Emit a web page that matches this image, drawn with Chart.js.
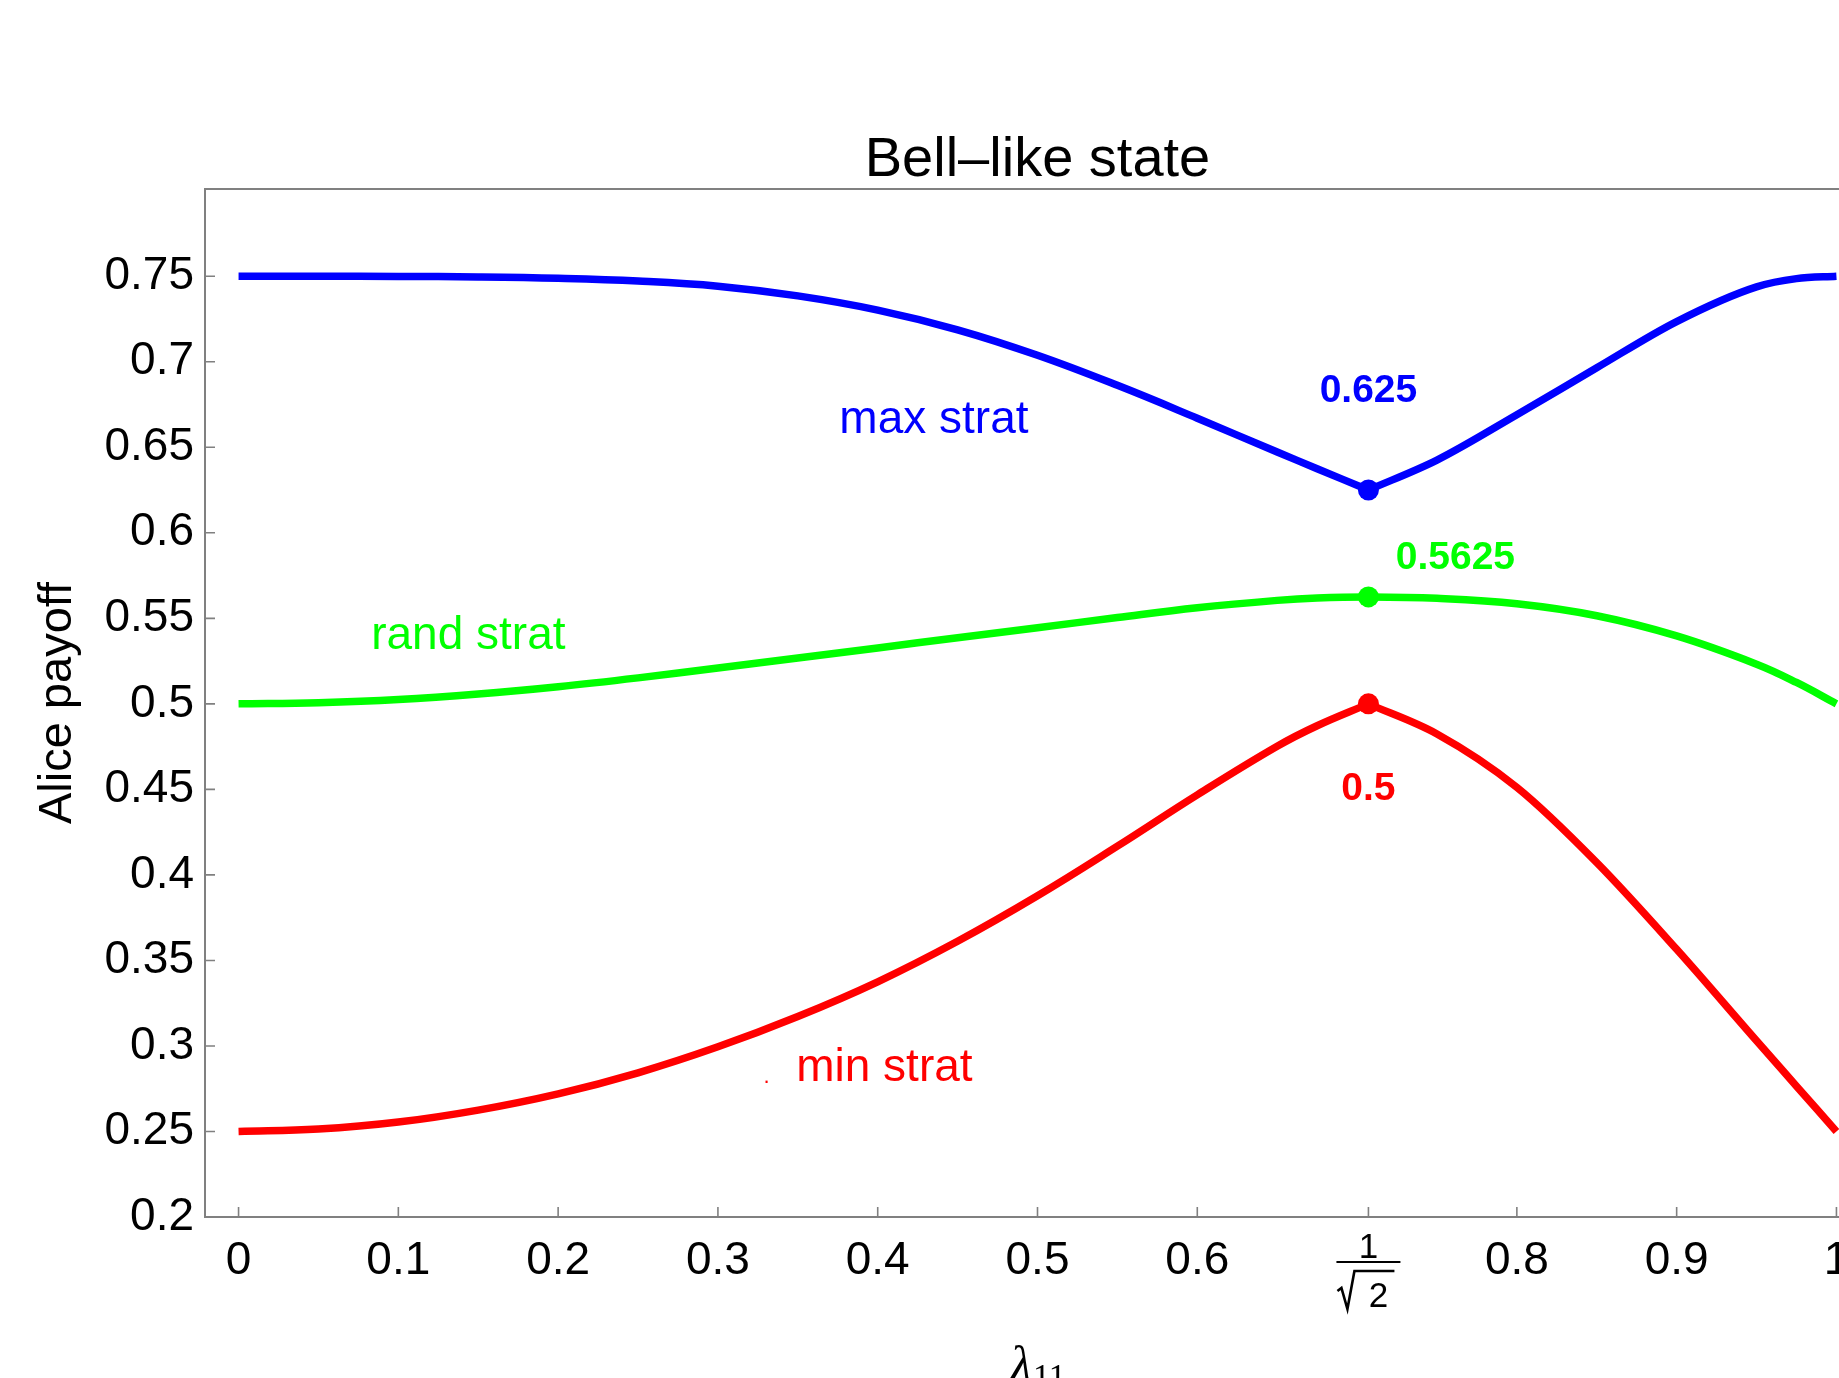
<!DOCTYPE html>
<html>
<head>
<meta charset="utf-8">
<title>Bell-like state</title>
<script src="https://cdn.jsdelivr.net/npm/chart.js@4.4.1/dist/chart.umd.min.js"></script>
<style>
html, body { margin: 0; padding: 0; background: #fff; overflow: hidden; }
#wrap { width: 1900px; height: 1378px; }
</style>
</head>
<body>
<div id="wrap"><canvas id="chart" width="1900" height="1378"></canvas></div>
<script>
// Values
const RT2 = 1 / Math.sqrt(2); // the curves meet / kink at lambda = 1/sqrt(2)

const lambdaLeft  = [0, 0.05, 0.1, 0.15, 0.2, 0.25, 0.3, 0.35, 0.4, 0.45, 0.5, 0.55, 0.6, 0.65, 0.675, RT2];
const lambdaRight = [RT2, 0.75, 0.8, 0.85, 0.9, 0.95, 0.975, 1];

const maxLeft  = [0.75, 0.75, 0.7499, 0.7496, 0.7488, 0.7472, 0.7442, 0.7385, 0.7302, 0.7187, 0.7038, 0.6862, 0.667, 0.6472, 0.6375, 0.625];
const maxRight = [0.625, 0.6425, 0.669, 0.6965, 0.7235, 0.7438, 0.7486, 0.75];

const randLeft  = [0.5, 0.5007, 0.5025, 0.5057, 0.51, 0.5152, 0.521, 0.5268, 0.5327, 0.5387, 0.5445, 0.5505, 0.5562, 0.5605, 0.5619, 0.5625];
const randRight = [0.5625, 0.5617, 0.5585, 0.5515, 0.5397, 0.5232, 0.5125, 0.5];

const minLeft  = [0.25, 0.2514, 0.2555, 0.2625, 0.272, 0.2843, 0.2995, 0.3172, 0.3375, 0.3612, 0.3878, 0.4168, 0.4468, 0.4752, 0.4872, 0.5];
const minRight = [0.5, 0.4824, 0.4512, 0.4072, 0.3565, 0.303, 0.2765, 0.25];

const markerY = [0.625, 0.5625, 0.5];

const xTicks = [0, 0.1, 0.2, 0.3, 0.4, 0.5, 0.6, RT2, 0.8, 0.9, 1];
const xTickLabels = ['0', '0.1', '0.2', '0.3', '0.4', '0.5', '0.6', '', '0.8', '0.9', '1'];
const yTicks = [0.2, 0.25, 0.3, 0.35, 0.4, 0.45, 0.5, 0.55, 0.6, 0.65, 0.7, 0.75];
const yTickLabels = ['0.2', '0.25', '0.3', '0.35', '0.4', '0.45', '0.5', '0.55', '0.6', '0.65', '0.7', '0.75'];

const BLUE = '#0000ff';
const GREEN = '#00ff00';
const RED = '#ff0000';
const AXIS_GRAY = '#808080';
const FONT = '"Liberation Sans", Arial, sans-serif';
const SERIF = '"Liberation Serif", "Times New Roman", serif';

// text placed in data coordinates
const notes = [
    { text: 'max strat', x: 0.376, y: 0.6584, color: BLUE, font: `46px ${FONT}`, align: 'left' },
    { text: 'rand strat', x: 0.083, y: 0.5321, color: GREEN, font: `46px ${FONT}`, align: 'left' },
    { text: 'min strat', x: 0.349, y: 0.2796, color: RED, font: `46px ${FONT}`, align: 'left' },
    { text: '.', x: 0.3285, y: 0.2785, color: RED, font: `22px ${FONT}`, align: 'left' },
    { text: '0.625', x: RT2, y: 0.6767, color: BLUE, font: `bold 39px ${FONT}`, align: 'center' },
    { text: '0.5625', x: 0.7242, y: 0.5788, color: GREEN, font: `bold 39px ${FONT}`, align: 'left' },
    { text: '0.5', x: RT2, y: 0.4437, color: RED, font: `bold 39px ${FONT}`, align: 'center' }
];

function toPoints(xs, ys) {
    return xs.map((x, i) => ({ x: x, y: ys[i] }));
}

function curve(xs, ys, color, monotone) {
    const ds = {
        data: toPoints(xs, ys),
        borderColor: color,
        borderWidth: 7.5,
        pointRadius: 0,
        fill: false,
        tension: 0.4,
        borderJoinStyle: 'round'
    };
    if (monotone) ds.cubicInterpolationMode = 'monotone';
    return ds;
}

// frame, inward tick marks and all free text
const decor = {
    id: 'decor',
    beforeDatasetsDraw(chart) {
        const { ctx, chartArea: a, scales: { x, y } } = chart;
        ctx.save();
        ctx.strokeStyle = AXIS_GRAY;
        ctx.lineWidth = 2;
        ctx.strokeRect(a.left, a.top, a.right - a.left, a.bottom - a.top);
        ctx.beginPath();
        xTicks.forEach(v => {
            const px = x.getPixelForValue(v);
            ctx.moveTo(px, a.bottom);
            ctx.lineTo(px, a.bottom - 10);
        });
        yTicks.forEach(v => {
            const py = y.getPixelForValue(v);
            ctx.moveTo(a.left, py);
            ctx.lineTo(a.left + 10, py);
        });
        ctx.lineWidth = 1.6;
        ctx.stroke();
        ctx.restore();
    },
    afterDraw(chart) {
        const { ctx, chartArea: a, scales: { x, y } } = chart;
        const midX = (a.left + a.right) / 2;
        ctx.save();
        ctx.fillStyle = '#000';
        ctx.textBaseline = 'alphabetic';

        // title
        ctx.font = `56px ${FONT}`;
        ctx.textAlign = 'center';
        ctx.fillText('Bell\u2013like state', midX, 176);

        // y axis title
        ctx.save();
        ctx.translate(71, (a.top + a.bottom) / 2);
        ctx.rotate(-Math.PI / 2);
        ctx.font = `47px ${FONT}`;
        ctx.fillText('Alice payoff', 0, 0);
        ctx.restore();

        // x axis title: lambda_11
        ctx.textAlign = 'left';
        ctx.font = `italic 50px ${SERIF}`;
        const wL = ctx.measureText('\u03BB').width;
        ctx.font = `34px ${SERIF}`;
        const wS = ctx.measureText('11').width;
        const startX = midX - (wL + wS) / 2;
        ctx.font = `italic 50px ${SERIF}`;
        ctx.fillText('\u03BB', startX, 1381);
        ctx.font = `34px ${SERIF}`;
        ctx.fillText('11', startX + wL + 1, 1387);

        // 1/sqrt(2) tick label
        const cx = x.getPixelForValue(RT2);
        const top = a.bottom;
        ctx.font = `35px ${FONT}`;
        ctx.textAlign = 'center';
        ctx.fillText('1', cx, top + 41);
        ctx.fillRect(cx - 32, top + 44, 64, 2);
        ctx.fillText('2', cx + 10, top + 90);
        ctx.beginPath();
        ctx.moveTo(cx - 31, top + 74);
        ctx.lineTo(cx - 27, top + 71);
        ctx.lineTo(cx - 21, top + 92);
        ctx.lineTo(cx - 14, top + 54);
        ctx.lineTo(cx + 26, top + 54);
        ctx.strokeStyle = '#000';
        ctx.lineWidth = 2.6;
        ctx.stroke();

        // curve labels
        notes.forEach(n => {
            ctx.font = n.font;
            ctx.fillStyle = n.color;
            ctx.textAlign = n.align;
            ctx.fillText(n.text, x.getPixelForValue(n.x), y.getPixelForValue(n.y));
        });
        ctx.restore();
    }
};

const ctx = document.getElementById('chart').getContext('2d');
const chart = new Chart(ctx, {
    type: 'line',
    data: {
        datasets: [
            curve(lambdaLeft, maxLeft, BLUE, false),
            curve(lambdaRight, maxRight, BLUE, true),
            curve(lambdaLeft.concat(lambdaRight.slice(1)), randLeft.concat(randRight.slice(1)), GREEN, false),
            curve(lambdaLeft, minLeft, RED, false),
            curve(lambdaRight, minRight, RED, true),
            {
                data: markerY.map(v => ({ x: RT2, y: v })),
                showLine: false,
                pointRadius: 10.5,
                pointBorderWidth: 0,
                pointBackgroundColor: [BLUE, GREEN, RED]
            }
        ]
    },
    options: {
        responsive: false,
        animation: false,
        devicePixelRatio: 1,
        layout: { padding: { left: 0, top: 189, right: 30, bottom: 0 } },
        plugins: {
            legend: { display: false },
            tooltip: { enabled: false }
        },
        scales: {
            x: {
                type: 'linear',
                min: -0.021,
                max: 1.021,
                afterBuildTicks: s => { s.ticks = xTicks.map(v => ({ value: v })); },
                afterFit: s => { s.height = 161; },
                grid: { display: false, drawTicks: false },
                border: { display: false },
                ticks: {
                    callback: (v, i) => xTickLabels[i],
                    font: { size: 46, family: FONT },
                    color: '#000',
                    padding: 17,
                    maxRotation: 0,
                    autoSkip: false
                }
            },
            y: {
                type: 'linear',
                min: 0.2,
                max: 0.801,
                afterBuildTicks: s => { s.ticks = yTicks.map(v => ({ value: v })); },
                afterFit: s => { s.width = 205; },
                grid: { display: false, drawTicks: false },
                border: { display: false },
                ticks: {
                    callback: (v, i) => yTickLabels[i],
                    font: { size: 46, family: FONT },
                    color: '#000',
                    padding: 11,
                    autoSkip: false
                }
            }
        }
    },
    plugins: [decor]
});
</script>
</body>
</html>
